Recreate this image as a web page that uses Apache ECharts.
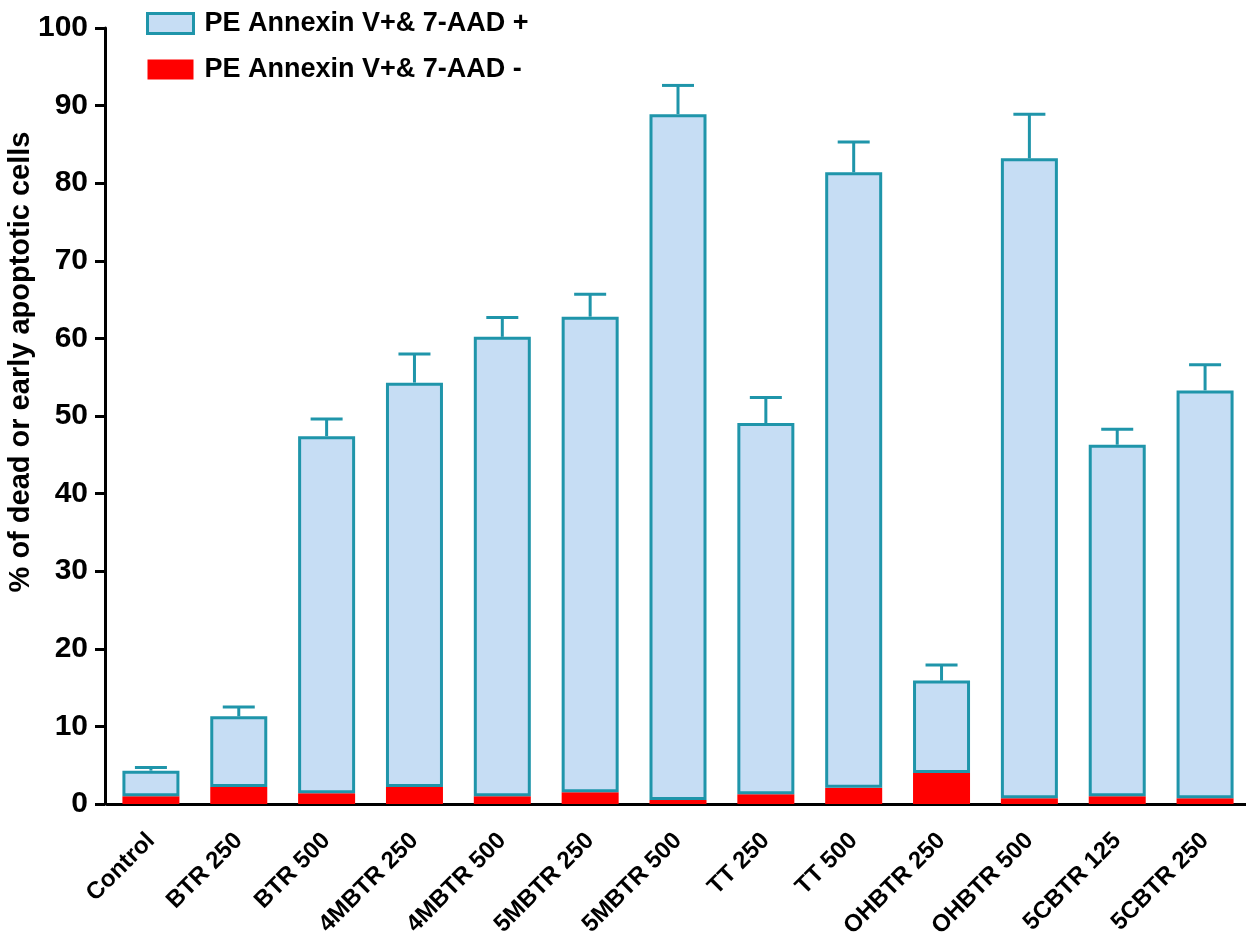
<!DOCTYPE html>
<html>
<head>
<meta charset="utf-8">
<script src="https://cdn.jsdelivr.net/npm/echarts@6/dist/echarts.min.js"></script>
<style>
  html, body { margin: 0; padding: 0; background: #ffffff; }
  #chart { width: 1246px; height: 936px; }
</style>
</head>
<body>
<div id="chart"></div>
<script>
const categories = ['Control', 'BTR 250', 'BTR 500', '4MBTR 250', '4MBTR 500', '5MBTR 250', '5MBTR 500', 'TT 250', 'TT 500', 'OHBTR 250', 'OHBTR 500', '5CBTR 125', '5CBTR 250'];
// total % of dead or early apoptotic cells (top of each bar)
const totalValues = [4.3, 11.3, 47.4, 54.3, 60.2, 62.8, 88.9, 49.1, 81.4, 15.9, 83.2, 46.3, 53.3];
// PE Annexin V+ & 7-AAD - (early apoptotic, red bottom part)
const earlyValues = [1.0, 2.2, 1.4, 2.2, 1.0, 1.5, 0.5, 1.25, 2.1, 4.0, 0.75, 1.0, 0.75];
// upper error (SD) above each bar
const errorValues = [0.4, 1.2, 2.2, 3.7, 2.5, 2.9, 3.7, 3.3, 3.9, 2.0, 5.7, 2.0, 3.3];
const yTicks = [0, 10, 20, 30, 40, 50, 60, 70, 80, 90, 100];

const nameLate = 'PE Annexin V+& 7-AAD +';
const nameEarly = 'PE Annexin V+& 7-AAD -';
const yTitle = '% of dead or early apoptotic cells';
const teal = '#1f95aa';
const lightBlue = '#c6ddf4';
const red = '#ff0000';
const font = "'Liberation Sans', Arial, Helvetica, sans-serif";

const lateValues = totalValues.map((t, i) => +(t - earlyValues[i]).toFixed(2));
const errorData = totalValues.map((t, i) => [i, t, t + errorValues[i]]);

const chart = echarts.init(document.getElementById('chart'), null, { renderer: 'canvas' });
chart.setOption({
  animation: false,
  backgroundColor: '#ffffff',
  grid: { left: 107, right: -3, top: 28, bottom: 132, containLabel: false, outerBoundsMode: 'none' },
  graphic: [
    {
      type: 'text',
      x: 21, y: 362,
      rotation: Math.PI / 2,
      style: {
        text: yTitle,
        fontFamily: font, fontWeight: 'bold', fontSize: 29, fill: '#000',
        textAlign: 'center', textVerticalAlign: 'middle'
      }
    }
  ],
  legend: {
    orient: 'vertical',
    left: 146,
    top: 10,
    padding: 0,
    itemWidth: 46,
    itemHeight: 20,
    itemGap: 19,
    icon: 'rect',
    data: [
      { name: nameLate, itemStyle: { color: lightBlue, borderColor: teal, borderWidth: 3 } },
      { name: nameEarly, itemStyle: { color: red, borderWidth: 0 } }
    ],
    textStyle: { fontFamily: font, fontWeight: 'bold', fontSize: 27, color: '#000', lineHeight: 21, padding: [0, 0, 0, 6] }
  },
  xAxis: {
    type: 'category',
    data: categories,
    axisLine: { lineStyle: { color: '#000', width: 3 } },
    axisTick: { alignWithLabel: true, length: 9, lineStyle: { color: '#000', width: 3 } },
    axisLabel: {
      rotate: 45, interval: 0, margin: 33,
      fontFamily: font, fontWeight: 'bold', fontSize: 24, color: '#000'
    }
  },
  yAxis: {
    type: 'value',
    min: 0, max: 100, interval: 10,
    offset: 2,
    splitLine: { show: false },
    axisLine: { show: true, lineStyle: { color: '#000', width: 3 } },
    axisTick: { show: true, length: 10, lineStyle: { color: '#000', width: 3 } },
    axisLabel: {
      margin: 17, fontFamily: font, fontWeight: 'bold', fontSize: 30, color: '#000',
      formatter: v => (yTicks.indexOf(v) >= 0 ? String(v) : '')
    }
  },
  series: [
    {
      name: nameEarly,
      type: 'bar',
      stack: 'cells',
      barWidth: 57,
      data: earlyValues,
      itemStyle: { color: red, borderColor: red, borderWidth: 3 }
    },
    {
      name: nameLate,
      type: 'bar',
      stack: 'cells',
      barWidth: 57,
      data: lateValues,
      itemStyle: { color: lightBlue, borderColor: teal, borderWidth: 3 }
    },
    {
      name: 'error',
      type: 'custom',
      data: errorData,
      z: 5,
      renderItem: function (params, api) {
        const base = api.coord([api.value(0), api.value(1)]);
        const top = api.coord([api.value(0), api.value(2)]);
        const cap = 16;
        const style = { stroke: teal, lineWidth: 3 };
        return {
          type: 'group',
          children: [
            { type: 'line', shape: { x1: base[0], y1: base[1], x2: top[0], y2: top[1] }, style: style },
            { type: 'line', shape: { x1: top[0] - cap, y1: top[1], x2: top[0] + cap, y2: top[1] }, style: style }
          ]
        };
      }
    }
  ]
});
</script>
</body>
</html>
